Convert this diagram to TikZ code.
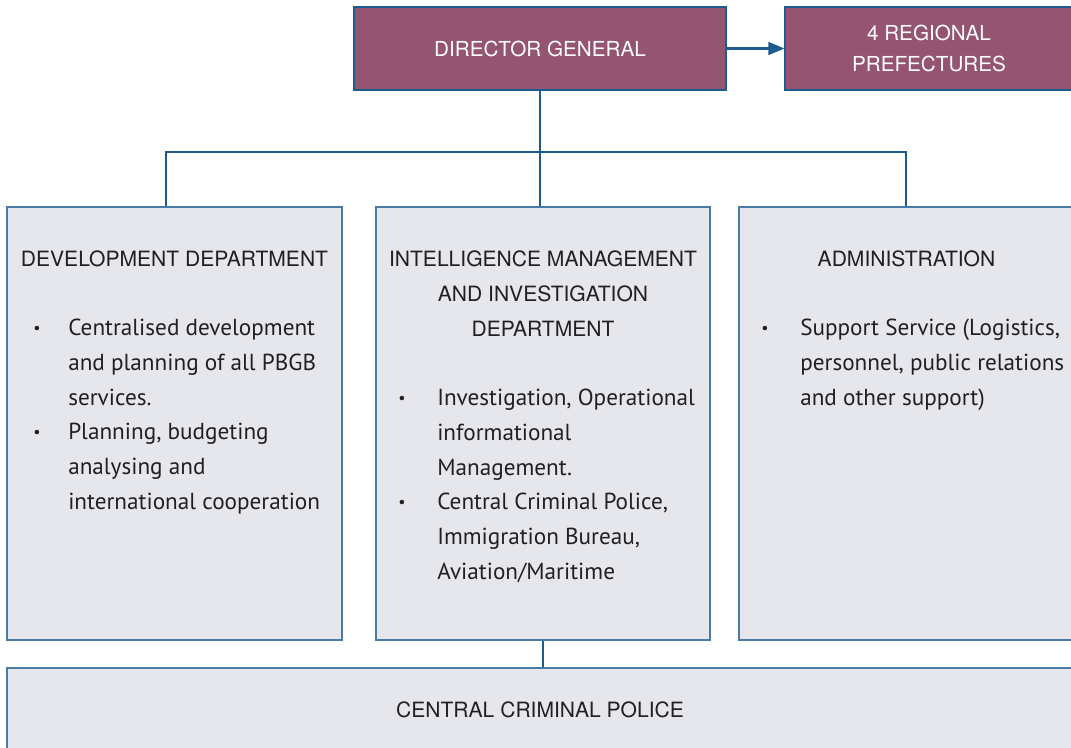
\documentclass[tikz,border=0pt]{standalone}
\usepackage{fontspec}
\setmainfont{TeX Gyre Heros}
\newfontfamily\itemfont{PT Sans}
\usetikzlibrary{arrows.meta,positioning}
\definecolor{pbpurple}{HTML}{945472}
\definecolor{pbgrey}{HTML}{E6E7ED}
\definecolor{pbblue}{HTML}{1D5A8E}
\definecolor{pbtext}{HTML}{231F20}
\tikzset{
  head/.style={draw=pbblue, line width=.8pt, fill=pbpurple, text=white, inner sep=0pt,
    align=center, font=\fontsize{15.5}{23.25}\selectfont},
  dept/.style={draw=pbblue!80, line width=.8pt, fill=pbgrey, inner sep=0pt},
  title/.style={text=pbtext, inner sep=0pt, align=center, font=\fontsize{15.8}{26}\selectfont},
  dot/.style={text=pbtext, inner sep=0pt, anchor=base west, font=\itemfont\fontsize{12}{26}\selectfont},
  entry/.style={text=pbtext, inner sep=0pt, anchor=base west, align=left,
    font=\itemfont\fontsize{17.4}{26}\selectfont},
  link/.style={draw=pbblue, line width=.8pt},
}
\begin{document}
\begin{tikzpicture}[x=0.75pt,y=-0.75pt]
  \useasboundingbox (0,0) rectangle (1071,747);
  % top row
  \node[head, minimum width=279pt, minimum height=62.25pt] (dg) at (540,48.5) {DIRECTOR GENERAL};
  \node[head, minimum width=216pt, minimum height=62.25pt] (reg) at (929,48.5) {4 REGIONAL\\PREFECTURES};
  % departments
  \node[dept, minimum width=251.25pt, minimum height=324.75pt] (dev) at (174.5,423.5) {};
  \node[dept, minimum width=250.5pt, minimum height=324.75pt] (intel) at (543,423.5) {};
  \node[dept, minimum width=251.25pt, minimum height=324.75pt] (adm) at (906.5,423.5) {};
  \node[dept, minimum width=804.75pt, minimum height=69pt] (ccp) at (543.5,714) {};
  % connectors
  \coordinate (busl) at (166,152);
  \coordinate (busr) at (906,152);
  \draw[link] (busl |- dev.north) -- (busl) -- (busr) -- (busr |- adm.north);
  \draw[link] (dg.south) -- (dg.south |- intel.north);
  \draw[link] (intel.south) -- (intel.south |- ccp.north);
  \draw[link, line width=1.8pt, -{Triangle[length=12pt,width=9.5pt]}] (dg.east) -- (reg.west);
  % titles
  \node[title] (devtitle) at (174.5,259) {DEVELOPMENT DEPARTMENT};
  \node[title] (inteltitle) at (543,293.5) {INTELLIGENCE MANAGEMENT\\AND INVESTIGATION\\DEPARTMENT};
  \node[title] (admtitle) at (906.5,259) {ADMINISTRATION};
  \node[title] (ccptitle) at (540,710) {CENTRAL CRIMINAL POLICE};
  % items (base = last line)
  \node[dot] (devdot1) at (33,333) {\textbullet};
  \node[entry] (devitem1) at (68,405.3) {Centralised development\\and planning of all PBGB\\services.};
  \node[dot] (devdot2) at (33,437) {\textbullet};
  \node[entry] (devitem2) at (68,509.3) {Planning, budgeting\\analysing and\\international cooperation};
  \node[dot] (inteldot1) at (398,403) {\textbullet};
  \node[entry] (intelitem1) at (437,475.3) {Investigation, Operational\\informational\\Management.};
  \node[dot] (inteldot2) at (398,507) {\textbullet};
  \node[entry] (intelitem2) at (437,579.3) {Central Criminal Police,\\Immigration Bureau,\\Aviation/Maritime};
  \node[dot] (admdot1) at (761,333) {\textbullet};
  \node[entry] (admitem1) at (800,405.3) {Support Service (Logistics,\\personnel, public relations\\and other support)};
\end{tikzpicture}
\end{document}
